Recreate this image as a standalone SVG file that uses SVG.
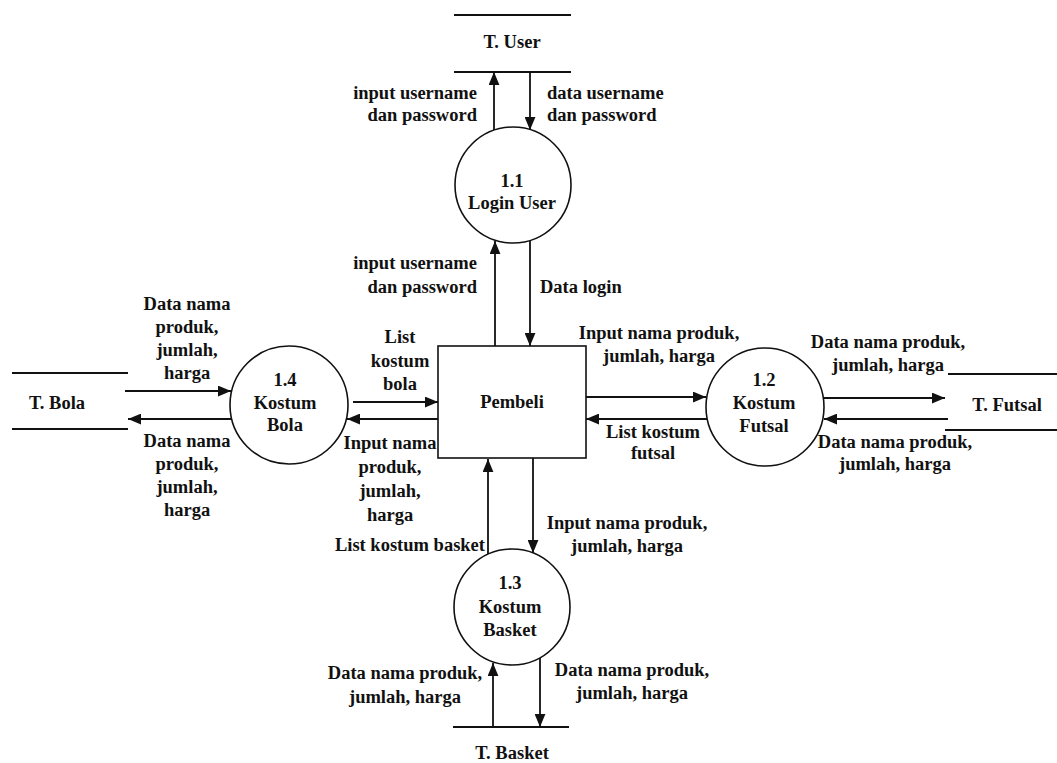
<svg xmlns="http://www.w3.org/2000/svg" width="1057" height="763" viewBox="0 0 1057 763">
<style>
text{font-family:"Liberation Serif","Times New Roman",serif;font-size:18.5px;font-weight:bold;fill:#111}
.c{text-anchor:middle}.r{text-anchor:end}.l{text-anchor:start}
.sh{fill:#fff;stroke:#111;stroke-width:1.6}
.ln{stroke:#111;stroke-width:1.8;fill:none}
.ar{stroke:#111;stroke-width:1.8;fill:none;marker-end:url(#ah)}
</style>
<defs>
<marker id="ah" viewBox="0 0 12 10" refX="12" refY="5" markerWidth="13" markerHeight="11" markerUnits="userSpaceOnUse" orient="auto">
<path d="M0,0 L12,5 L0,10 z" fill="#111"/>
</marker>
</defs>
<rect width="1057" height="763" fill="#fff"/>

<g id="store-user">
<line class="ln" x1="454" y1="15" x2="571" y2="15"/>
<line class="ln" x1="454" y1="72" x2="571" y2="72"/>
<text class="c" x="512" y="48">T. User</text>
</g>
<g id="store-bola">
<line class="ln" x1="12" y1="373" x2="128" y2="373"/>
<line class="ln" x1="12" y1="429" x2="128" y2="429"/>
<text class="c" x="57" y="409">T. Bola</text>
</g>
<g id="store-futsal">
<line class="ln" x1="948" y1="374" x2="1057" y2="374"/>
<line class="ln" x1="945" y1="430" x2="1057" y2="430"/>
<text class="c" x="1007" y="411">T. Futsal</text>
</g>
<g id="store-basket">
<line class="ln" x1="453" y1="727" x2="569" y2="727"/>
<text class="c" x="512" y="759">T. Basket</text>
</g>

<g id="p11">
<circle class="sh" cx="513" cy="185" r="58"/>
<text class="c" x="512" y="187">1.1</text>
<text class="c" x="512" y="209">Login User</text>
</g>
<g id="p12">
<circle class="sh" cx="765" cy="407" r="59"/>
<text class="c" x="764" y="386">1.2</text>
<text class="c" x="764" y="409">Kostum</text>
<text class="c" x="764" y="432">Futsal</text>
</g>
<g id="p13">
<circle class="sh" cx="512" cy="607" r="58"/>
<text class="c" x="510" y="589">1.3</text>
<text class="c" x="510" y="613">Kostum</text>
<text class="c" x="510" y="636">Basket</text>
</g>
<g id="p14">
<circle class="sh" cx="289" cy="405" r="59"/>
<text class="c" x="285" y="386">1.4</text>
<text class="c" x="285" y="409">Kostum</text>
<text class="c" x="285" y="431">Bola</text>
</g>
<g id="pembeli">
<rect class="sh" x="438" y="346" width="148" height="112"/>
<text class="c" x="512" y="408">Pembeli</text>
</g>

<g id="connectors">
<line class="ar" x1="494" y1="130" x2="494" y2="72"/>
<line class="ar" x1="530" y1="72" x2="530" y2="130"/>
<line class="ar" x1="495" y1="346" x2="495" y2="241"/>
<line class="ar" x1="530" y1="241" x2="530" y2="346"/>
<line class="ar" x1="586" y1="397" x2="706" y2="397"/>
<line class="ar" x1="707" y1="419" x2="586" y2="419"/>
<line class="ar" x1="824" y1="398" x2="945" y2="398"/>
<line class="ar" x1="948" y1="419" x2="824" y2="419"/>
<line class="ar" x1="125" y1="391" x2="231" y2="391"/>
<line class="ar" x1="231" y1="419" x2="128" y2="419"/>
<line class="ar" x1="353" y1="402" x2="438" y2="402"/>
<line class="ar" x1="438" y1="419" x2="347" y2="419"/>
<line class="ar" x1="488" y1="554" x2="488" y2="459"/>
<line class="ar" x1="533" y1="458" x2="533" y2="553"/>
<line class="ar" x1="493" y1="727" x2="493" y2="663"/>
<line class="ar" x1="540" y1="658" x2="540" y2="727"/>
</g>

<g id="labels">
<text class="r" x="477" y="99">input username</text>
<text class="r" x="477" y="121">dan password</text>
<text class="l" x="547" y="99">data username</text>
<text class="l" x="547" y="121">dan password</text>
<text class="r" x="477" y="269">input username</text>
<text class="r" x="477" y="293">dan password</text>
<text class="l" x="540" y="293">Data login</text>

<text class="c" x="187" y="310">Data nama</text>
<text class="c" x="187" y="333">produk,</text>
<text class="c" x="187" y="356">jumlah,</text>
<text class="c" x="187" y="379">harga</text>
<text class="c" x="187" y="447">Data nama</text>
<text class="c" x="187" y="470">produk,</text>
<text class="c" x="187" y="493">jumlah,</text>
<text class="c" x="187" y="516">harga</text>

<text class="c" x="400" y="343">List</text>
<text class="c" x="400" y="367">kostum</text>
<text class="c" x="400" y="390">bola</text>
<text class="c" x="390" y="449">Input nama</text>
<text class="c" x="390" y="473">produk,</text>
<text class="c" x="390" y="497">jumlah,</text>
<text class="c" x="390" y="521">harga</text>
<text class="r" x="485" y="551">List kostum basket</text>

<text class="c" x="659" y="339">Input nama produk,</text>
<text class="c" x="659" y="362">jumlah, harga</text>
<text class="c" x="653" y="438">List kostum</text>
<text class="c" x="653" y="459">futsal</text>

<text class="c" x="888" y="348">Data nama produk,</text>
<text class="c" x="888" y="371">jumlah, harga</text>
<text class="c" x="895" y="448">Data nama produk,</text>
<text class="c" x="895" y="470">jumlah, harga</text>

<text class="c" x="627" y="529">Input nama produk,</text>
<text class="c" x="627" y="552">jumlah, harga</text>
<text class="c" x="405" y="679">Data nama produk,</text>
<text class="c" x="405" y="703">jumlah, harga</text>
<text class="c" x="632" y="676">Data nama produk,</text>
<text class="c" x="632" y="699">jumlah, harga</text>
</g>
</svg>
